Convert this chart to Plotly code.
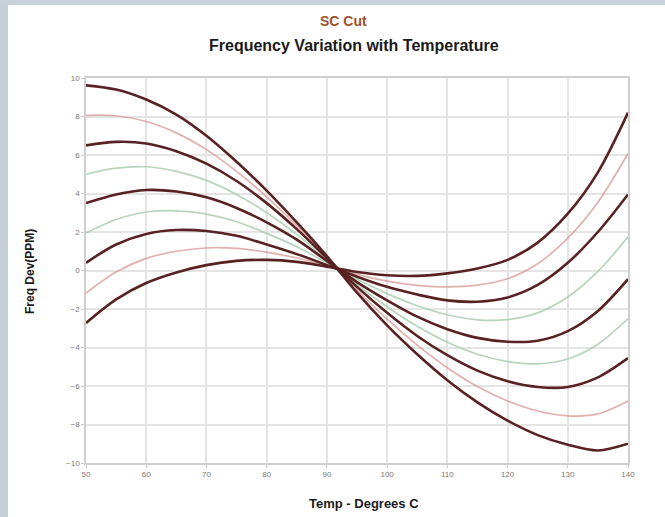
import plotly.graph_objects as go

temps = [50, 55, 60, 65, 70, 75, 80, 85, 90, 95, 100, 105, 110, 115, 120, 125, 130, 135, 140]

thick_1 = [9.62, 9.4, 8.88, 8.1, 7.0, 5.65, 4.15, 2.5, 0.75, -1.15, -2.85, -4.35, -5.7, -6.85, -7.8, -8.55, -9.05, -9.35, -9.0]
thick_2 = [6.5, 6.68, 6.6, 6.2, 5.55, 4.65, 3.5, 2.15, 0.65, -0.85, -2.2, -3.4, -4.4, -5.2, -5.75, -6.05, -6.05, -5.55, -4.55]
thick_3 = [3.5, 3.95, 4.18, 4.1, 3.8, 3.25, 2.5, 1.6, 0.5, -0.6, -1.55, -2.4, -3.05, -3.5, -3.7, -3.65, -3.15, -2.1, -0.45]
thick_4 = [0.4, 1.35, 1.9, 2.1, 2.05, 1.8, 1.35, 0.85, 0.28, -0.32, -0.85, -1.25, -1.55, -1.62, -1.4, -0.75, 0.4, 2.0, 3.95]
thick_5 = [-2.73, -1.5, -0.65, -0.1, 0.28, 0.5, 0.55, 0.45, 0.2, -0.08, -0.25, -0.28, -0.15, 0.1, 0.55, 1.45, 2.95, 5.1, 8.2]

thin_1 = [8.06, 8.04, 7.74, 7.15, 6.28, 5.15, 3.83, 2.33, 0.7, -1.0, -2.53, -3.88, -5.05, -6.03, -6.78, -7.3, -7.55, -7.45, -6.78]
thin_2 = [5.0, 5.32, 5.39, 5.15, 4.68, 3.95, 3.0, 1.88, 0.58, -0.73, -1.88, -2.9, -3.73, -4.35, -4.73, -4.85, -4.6, -3.83, -2.5]
thin_3 = [1.95, 2.65, 3.04, 3.1, 2.93, 2.53, 1.93, 1.23, 0.39, -0.46, -1.2, -1.83, -2.3, -2.56, -2.55, -2.2, -1.38, -0.05, 1.75]
thin_4 = [-1.17, -0.08, 0.63, 1.0, 1.17, 1.15, 0.95, 0.65, 0.24, -0.2, -0.55, -0.77, -0.85, -0.76, -0.43, 0.35, 1.68, 3.55, 6.08]

x_ticks = [50, 60, 70, 80, 90, 100, 110, 120, 130, 140]
y_ticks = [-10, -8, -6, -4, -2, 0, 2, 4, 6, 8, 10]

thin_colors = ["rgba(215,150,145,0.75)", "rgba(170,205,178,0.85)",
               "rgba(170,205,178,0.85)", "rgba(215,150,145,0.75)"]

fig = go.Figure()
for ys, c in zip([thin_1, thin_2, thin_3, thin_4], thin_colors):
    fig.add_trace(go.Scatter(x=temps, y=ys, mode="lines",
                             line=dict(color=c, width=1.7, shape="spline", smoothing=0.9),
                             showlegend=False, hoverinfo="skip"))
for ys in [thick_1, thick_2, thick_3, thick_4, thick_5]:
    fig.add_trace(go.Scatter(x=temps, y=ys, mode="lines",
                             line=dict(color="#582222", width=2.6, shape="spline", smoothing=0.9),
                             showlegend=False, hoverinfo="skip"))

L, R, T, B = 86, 37, 78, 54
W, H = 665, 517
pw, ph = W - L - R, H - T - B

def px(xp):
    return (xp - L) / pw

def py(yp):
    return (H - B - yp) / ph

def label(text, xp, yp, size, color, angle=0):
    return dict(text=text, xref="paper", yref="paper", x=px(xp), y=py(yp),
                xanchor="center", yanchor="middle", showarrow=False,
                textangle=angle, font=dict(size=size, color=color))

axis_style = dict(showgrid=True, gridcolor="#e4e4e4", gridwidth=1.5, zeroline=False,
                  showline=True, linecolor="#cfcfcf", linewidth=1.5, mirror=True,
                  ticks="outside", ticklen=3, tickcolor="#cccccc",
                  tickfont=dict(size=8, color="#7a7a7a"))

fig.update_layout(
    width=W, height=H,
    margin=dict(l=L, r=R, t=T, b=B),
    paper_bgcolor="white", plot_bgcolor="white",
    font=dict(family="Liberation Sans, Arial, sans-serif"),
    xaxis=dict(range=[50, 140], tickvals=x_ticks, **axis_style),
    yaxis=dict(range=[-10, 10], tickvals=y_ticks, **axis_style),
    shapes=[
        dict(type="rect", xref="paper", yref="paper",
             x0=px(0), x1=px(8), y0=py(H), y1=py(0),
             fillcolor="#c6ced9", line=dict(width=0), layer="below"),
        dict(type="rect", xref="paper", yref="paper",
             x0=px(0), x1=px(W), y0=py(5), y1=py(0),
             fillcolor="#c8d0da", line=dict(width=0), layer="below"),
    ],
    annotations=[
        label("<b>SC Cut</b>", 343, 21, 14, "#a0502a"),
        label("<b>Frequency Variation with Temperature</b>", 354, 46, 16, "#1a1a1a"),
        label("<b>Temp - Degrees C</b>", 364, 503, 13, "#1a1a1a"),
        label("<b>Freq Dev(PPM)</b>", 30, 272, 12, "#1a1a1a", -90),
    ],
)

fig.write_html("out.html",
               config={"displayModeBar": False},
               post_script="document.body.style.margin='0';document.body.style.overflow='hidden';")
